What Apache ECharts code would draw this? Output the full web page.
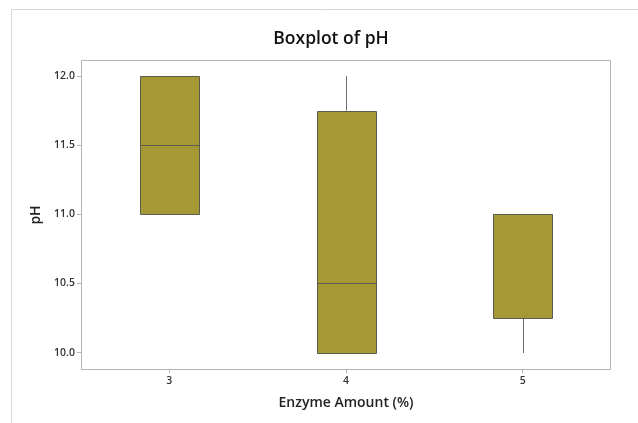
<!DOCTYPE html>
<html><head><meta charset="utf-8">
<script src="https://cdn.jsdelivr.net/npm/echarts@6/dist/echarts.min.js"></script>
<style>html,body{margin:0;padding:0;background:#fff}#c{width:638px;height:423px}</style>
</head><body><div id="c"></div>
<script>
const categories = ['3', '4', '5'];
// [min, Q1, median, Q3, max]
const box3 = [11.0, 11.0, 11.5, 12.0, 12.0];
const box4 = [10.0, 10.0, 10.5, 11.75, 12.0];
const box5 = [10.0, 10.25, 11.0, 11.0, 11.0];
const yTicks = [10.0, 10.5, 11.0, 11.5, 12.0];

const boxes = [box3, box4, box5];
const font = '"Open Sans", "Noto Sans", sans-serif';
const chart = echarts.init(document.getElementById('c'), null, {renderer: 'canvas'});

function renderBox(params, api) {
  const ci = api.value(0);
  const vals = [api.value(1), api.value(2), api.value(3), api.value(4), api.value(5)];
  const pMin = api.coord([ci, vals[0]]);
  const pQ1 = api.coord([ci, vals[1]]);
  const pMed = api.coord([ci, vals[2]]);
  const pQ3 = api.coord([ci, vals[3]]);
  const pMax = api.coord([ci, vals[4]]);
  const bw = Math.round(api.size([1, 0])[0] * 0.335);
  const x = pQ1[0];
  const left = Math.round(x - bw / 2) + 0.5;
  const xc = Math.round(x) + 0.5;
  const children = [];
  const lineStyle = {stroke: '#707070', lineWidth: 1};
  if (vals[4] > vals[3]) children.push({type: 'line', shape: {x1: xc, y1: Math.round(pMax[1]), x2: xc, y2: pQ3[1]}, style: lineStyle});
  if (vals[1] > vals[0]) children.push({type: 'line', shape: {x1: xc, y1: pQ1[1], x2: xc, y2: Math.round(pMin[1])}, style: lineStyle});
  const top = Math.round(pQ3[1]) + 0.5;
  const bot = Math.round(pQ1[1]) + 0.5;
  children.push({type: 'rect', shape: {x: left, y: top, width: bw, height: bot - top},
    style: {fill: '#A59835', stroke: '#5b5b4f', lineWidth: 1}});
  const my = Math.round(pMed[1]) + 0.5;
  children.push({type: 'line', shape: {x1: left, y1: my, x2: left + bw, y2: my},
    style: {stroke: '#5b5b4f', lineWidth: 1}});
  return {type: 'group', children: children};
}

chart.setOption({
  animation: false,
  backgroundColor: '#fff',
  title: {
    text: 'Boxplot of pH', left: 326, top: 25, textAlign: 'center',
    textStyle: {fontFamily: font, fontSize: 17.5, fontWeight: 600, color: '#111'}
  },
  graphic: [{
    type: 'rect', shape: {x: 11.5, y: 9.5, width: 700, height: 500},
    style: {fill: 'none', stroke: '#d6d6d6', lineWidth: 1}, silent: true
  }, {
    type: 'rect', shape: {x: 81.5, y: 60.5, width: 529, height: 309},
    style: {fill: 'none', stroke: '#b5b5b5', lineWidth: 1}, silent: true, z: 10
  }],
  grid: {left: 81, top: 60, width: 530, height: 310, containLabel: false},
  xAxis: {
    type: 'category', data: categories, boundaryGap: true,
    name: 'Enzyme Amount (%)', nameLocation: 'middle', nameGap: 26,
    nameTextStyle: {fontFamily: font, fontSize: 14, fontWeight: 600, color: '#222'},
    axisLine: {show: false},
    axisTick: {show: true, alignWithLabel: true, length: 3, lineStyle: {color: '#b5b5b5'}},
    axisLabel: {fontFamily: font, fontSize: 10.5, fontWeight: 600, color: '#333', margin: 6},
    splitLine: {show: false}
  },
  yAxis: {
    type: 'value',
    min: 9.874, max: 12.116,
    name: 'pH', nameLocation: 'middle', nameGap: 33,
    nameTextStyle: {fontFamily: font, fontSize: 14, fontWeight: 600, color: '#222'},
    axisLine: {show: false},
    axisLabel: {
      fontFamily: font, fontSize: 10.5, fontWeight: 600, color: '#333', margin: 6,
      customValues: yTicks, formatter: v => v.toFixed(1)
    },
    axisTick: {show: true, length: 4, customValues: yTicks, lineStyle: {color: '#b5b5b5'}},
    splitLine: {show: false}
  },
  series: [{
    type: 'custom',
    renderItem: renderBox,
    encode: {x: 0, y: [1, 2, 3, 4, 5]},
    data: boxes.map((b, i) => [i].concat(b)),
    silent: true
  }]
});
</script></body></html>
